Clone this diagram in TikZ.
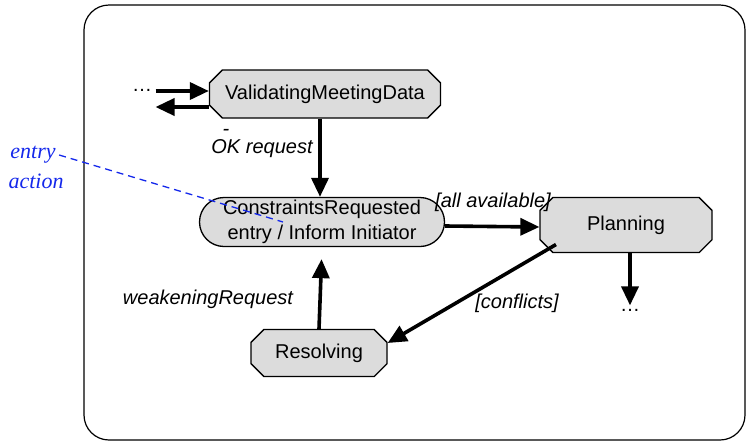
\documentclass[tikz,border=0pt]{standalone}
\usepackage{fontspec}
\setmainfont{Liberation Sans}
\newfontfamily\notefont{Liberation Serif}
\usetikzlibrary{shapes.misc,arrows.meta}
\definecolor{statefill}{RGB}{220,220,220}
\definecolor{noteblue}{RGB}{20,40,235}

\begin{document}
\begin{tikzpicture}[x=1pt, y=-1pt, font=\fontsize{20}{25}\selectfont,
  state node/.style={chamfered rectangle, chamfered rectangle xsep=13pt, draw, line width=1.3pt, fill=statefill, inner sep=0pt},
  act node/.style={rounded rectangle, draw, line width=1.3pt, fill=statefill, inner sep=0pt, align=center},
  guard/.style={font=\fontsize{20}{25}\selectfont\itshape},
  trans/.style={line width=3.6pt, -{Triangle[length=19pt,width=17pt]}}]
\useasboundingbox (0,0) rectangle (750,445);
\draw[rounded corners=25pt, line width=1.2pt] (84,5) rectangle (745,440);
\begin{scope}
\node[state node, minimum width=231pt, minimum height=48pt] (vmd) at (325,94) {ValidatingMeetingData};
\node[act node, minimum width=245pt, minimum height=49pt] (cr) at (322,222) {ConstraintsRequested\\entry / Inform Initiator};
\node[state node, minimum width=172pt, minimum height=55pt] (plan) at (626,225) {Planning};
\node[state node, minimum width=136pt, minimum height=47pt] (res) at (319,353) {Resolving};
\node (dotsL) at (142,90) {\dots};
\node (dotsR) at (630,310) {\dots};
%\node[state node] (s) at (,) {};
\end{scope}
\begin{scope}[guard]
\node (okdash) at (226,132) {-};
\node (okreq) at (262,149) {OK request};
\node (allav) at (493,202) {[all available]};
\node (confl) at (517,303) {[conflicts]};
\node (weakreq) at (208,299) {weakeningRequest};
\end{scope}
\begin{scope}[every node/.style={font=\fontsize{22}{26}\selectfont\notefont\itshape, text=noteblue}]
\node (entry) at (33,155) {entry};
\node (action) at (36,181) {action};
\end{scope}
\coordinate (entrypt) at (283,222);
\begin{scope}
\draw ([yshift=-1pt]dotsL.east) edge[trans] ([yshift=-1pt]dotsL.east -| vmd.west);
\draw ([yshift=-17pt]dotsL.east -| vmd.west) edge[trans] ([yshift=-17pt]dotsL.east);
\draw ([xshift=-5pt]vmd.south) edge[trans] ([xshift=-2pt]cr.north);
\draw ([yshift=-4pt]cr.east) edge[trans] ([yshift=-2pt]plan.west);
\draw ([xshift=10pt,yshift=2pt]plan.south west) edge[trans] ([yshift=10pt]res.east);
\draw (plan.south -| dotsR) edge[trans] (dotsR.north);
\draw (res.north) edge[trans, shorten >=12pt] (cr.south);
\draw[noteblue, line width=1.3pt, dash pattern=on 7pt off 5pt] (entry.east) -- (entrypt);
%\draw (s) edge[trans] (s);
\end{scope}
\end{tikzpicture}
\end{document}
